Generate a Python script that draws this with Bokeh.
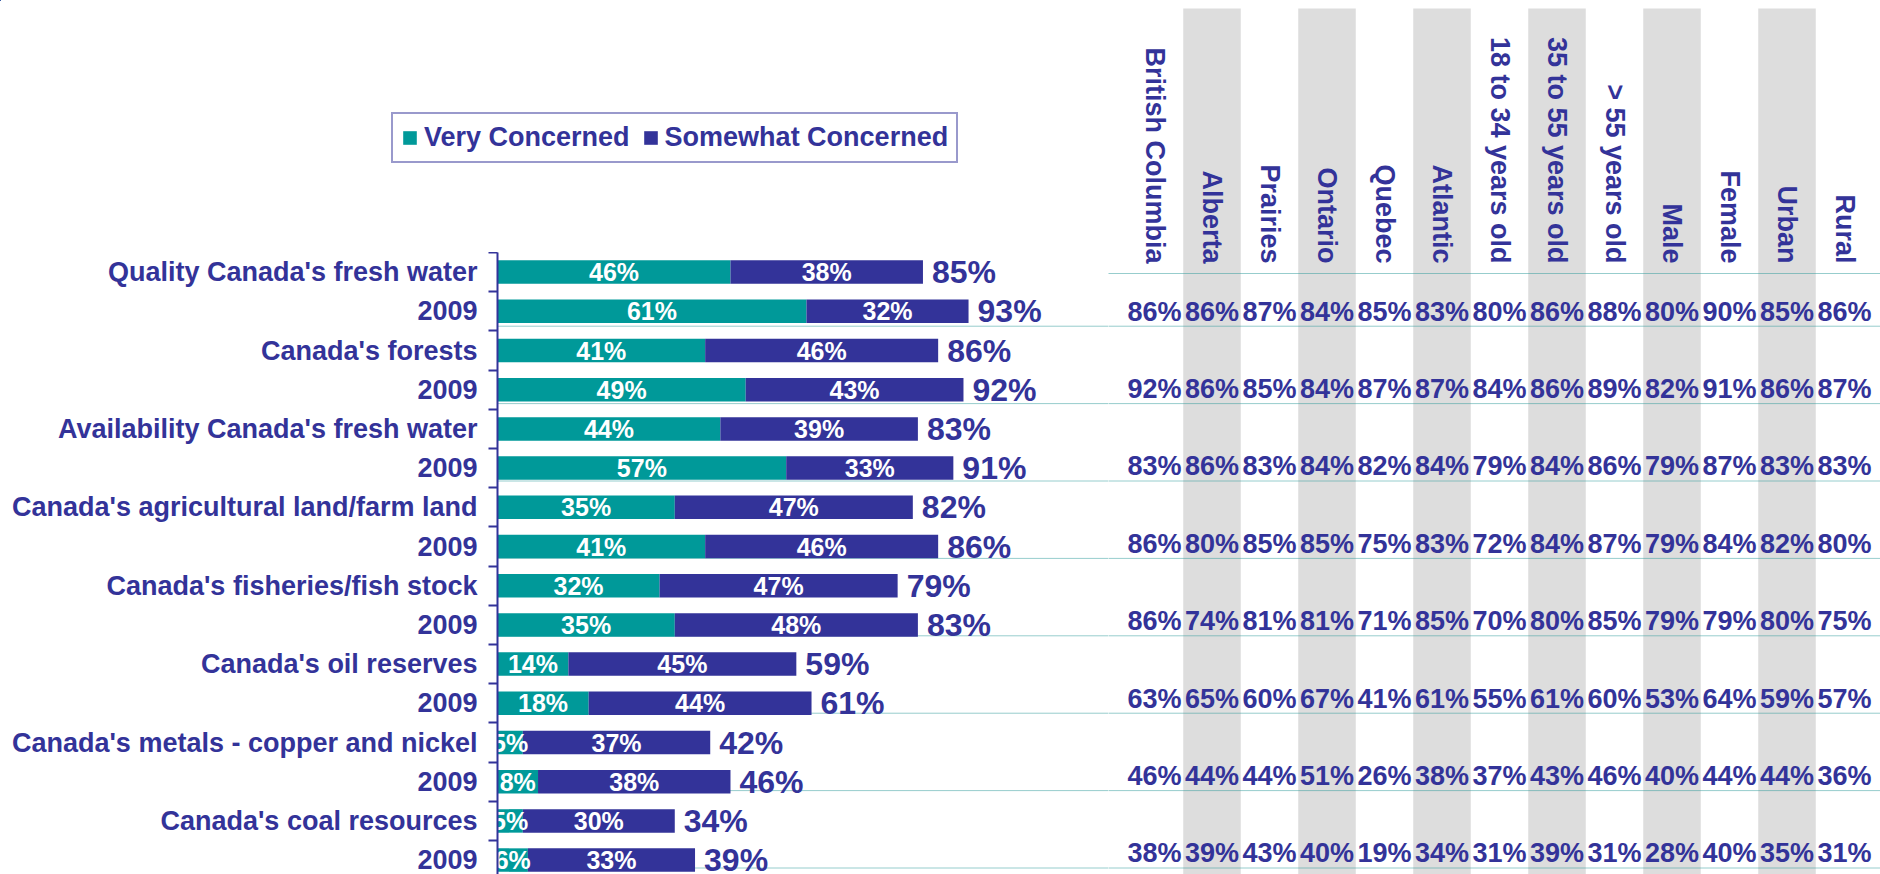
import math
from bokeh.plotting import figure
from bokeh.layouts import row, column
from bokeh.models import (Range1d, FixedTicker, ColumnDataSource, Legend, LegendItem,
                          BoxAnnotation, Span)
from bokeh.core.properties import value
from bokeh.embed import file_html
from bokeh.resources import INLINE

# ---------------- data ----------------
categories = ["Quality Canada's fresh water", "2009",
              "Canada's forests", "2009",
              "Availability Canada's fresh water", "2009",
              "Canada's agricultural land/farm land", "2009",
              "Canada's fisheries/fish stock", "2009",
              "Canada's oil reserves", "2009",
              "Canada's metals - copper and nickel", "2009",
              "Canada's coal resources", "2009"]
very_concerned = [46, 61, 41, 49, 44, 57, 35, 41, 32, 35, 14, 18, 5, 8, 5, 6]
somewhat_concerned = [38, 32, 46, 43, 39, 33, 47, 46, 47, 48, 45, 44, 37, 38, 30, 33]
total_concerned = [85, 93, 86, 92, 83, 91, 82, 86, 79, 83, 59, 61, 42, 46, 34, 39]
series_names = ["Very Concerned", "Somewhat Concerned"]

groups = ["British Columbia", "Alberta", "Prairies", "Ontario", "Quebec", "Atlantic",
          "18 to 34 years old", "35 to 55 years old", "> 55 years old",
          "Male", "Female", "Urban", "Rural"]
table_quality_water = [86, 86, 87, 84, 85, 83, 80, 86, 88, 80, 90, 85, 86]
table_forests = [92, 86, 85, 84, 87, 87, 84, 86, 89, 82, 91, 86, 87]
table_availability_water = [83, 86, 83, 84, 82, 84, 79, 84, 86, 79, 87, 83, 83]
table_agricultural = [86, 80, 85, 85, 75, 83, 72, 84, 87, 79, 84, 82, 80]
table_fisheries = [86, 74, 81, 81, 71, 85, 70, 80, 85, 79, 79, 80, 75]
table_oil = [63, 65, 60, 67, 41, 61, 55, 61, 60, 53, 64, 59, 57]
table_metals = [46, 44, 44, 51, 26, 38, 37, 43, 46, 40, 44, 44, 36]
table_coal = [38, 39, 43, 40, 19, 34, 31, 39, 31, 28, 40, 35, 31]
table_rows = [table_quality_water, table_forests, table_availability_water, table_agricultural,
              table_fisheries, table_oil, table_metals, table_coal]

# ---------------- style / layout (page pixels) ----------------
TEAL = "#009999"
BLUE = "#333399"
GRAY = "#DDDDDD"
DOT = "#2E9A9A"
FONT = value("Liberation Sans")

H = 874
LEFT_W = 1108
TABLE_W = 1880 - LEFT_W
AXIS_X = 497              # axis line x
FRAME_TOP = 252           # first row boundary
PX_PER_PCT = 5.065
ROW_PX = 39.2
PAIR_PX = 77.4
TROW0_Y = 311             # first table value row centre
COL_PX = 57.5
COL0_X = 1154             # first table column centre


def t_of(py):
    """table row units for a page y"""
    return (py - TROW0_Y) / PAIR_PX


def bare(p):
    p.outline_line_color = None
    p.xgrid.visible = False
    p.ygrid.visible = False


n = len(categories)
ycent = [i + 0.5 for i in range(n)]
ends = [v + s for v, s in zip(very_concerned, somewhat_concerned)]
src = ColumnDataSource(dict(
    y=ycent, very=very_concerned, end=ends,
    vmid=[v / 2 for v in very_concerned],
    smid=[v + s / 2 for v, s in zip(very_concerned, somewhat_concerned)],
    vlab=[f"{v}%" for v in very_concerned],
    slab=[f"{s}%" for s in somewhat_concerned],
    tlab=[f"{t}%" for t in total_concerned],
))

# ---------------- top-left: legend (same series, scrolled out of this panel's view) ----------------
leg_fig = figure(width=LEFT_W, height=FRAME_TOP,
                 x_range=Range1d(200, 300), y_range=Range1d(40, 30),
                 output_backend="svg", toolbar_location=None,
                 x_axis_location=None, y_axis_location=None,
                 min_border_left=0, min_border_right=0, min_border_top=0, min_border_bottom=0)
leg_fig.frame_align = False
bare(leg_fig)
lr_very = leg_fig.hbar(y="y", left=0, right="very", height=0.6, source=src,
                       fill_color=TEAL, line_color=None)
lr_some = leg_fig.hbar(y="y", left="very", right="end", height=0.6, source=src,
                       fill_color=BLUE, line_color=None)
legend = Legend(items=[LegendItem(label=series_names[0], renderers=[lr_very]),
                       LegendItem(label=series_names[1], renderers=[lr_some])],
                location=(391, FRAME_TOP - 163), orientation="horizontal",
                glyph_width=17, glyph_height=17, label_standoff=6, spacing=12,
                padding=8, margin=0,
                label_text_font="Liberation Sans", label_text_font_style="bold",
                label_text_font_size="27px", label_text_color=BLUE,
                border_line_color=BLUE, border_line_width=2,
                background_fill_color="white", background_fill_alpha=1)
leg_fig.add_layout(legend)

# ---------------- bottom-left: stacked bars ----------------
BARS_H = H - FRAME_TOP
left = figure(width=LEFT_W, height=BARS_H,
              x_range=Range1d(0, (LEFT_W - AXIS_X) / PX_PER_PCT),
              y_range=Range1d(BARS_H / ROW_PX, 0),
              output_backend="svg", toolbar_location=None,
              x_axis_location=None,
              min_border_left=AXIS_X, min_border_right=0,
              min_border_top=0, min_border_bottom=0)
left.extra_y_ranges = {"table": Range1d(t_of(H), t_of(FRAME_TOP))}
bare(left)

for k in range(len(table_rows)):
    left.add_layout(Span(location=k + 0.19, dimension="width", y_range_name="table",
                         line_color=DOT, line_dash="1 1", line_width=1, level="underlay"))

left.hbar(y="y", left=0, right="very", height=0.6, source=src,
          fill_color=TEAL, line_color=None)
left.hbar(y="y", left="very", right="end", height=0.6, source=src,
          fill_color=BLUE, line_color=None)

left.text(x="vmid", y="y", text="vlab", source=src, text_color="white",
          text_font=FONT, text_font_style="bold", text_font_size="25px",
          text_align="center", text_baseline="middle")
left.text(x="smid", y="y", text="slab", source=src, text_color="white",
          text_font=FONT, text_font_style="bold", text_font_size="25px",
          text_align="center", text_baseline="middle")
left.text(x="end", y="y", text="tlab", source=src, text_color=BLUE, x_offset=9,
          text_font=FONT, text_font_style="bold", text_font_size="32px",
          text_align="left", text_baseline="middle")

ax = left.yaxis[0]
ax.ticker = FixedTicker(ticks=ycent, minor_ticks=list(range(n + 1)))
ax.major_label_overrides = {yc: lab for yc, lab in zip(ycent, categories)}
ax.axis_line_color = BLUE
ax.axis_line_width = 2
ax.major_tick_line_color = None
ax.major_tick_out = 0
ax.major_tick_in = 0
ax.minor_tick_line_color = BLUE
ax.minor_tick_line_width = 2
ax.minor_tick_out = 9
ax.minor_tick_in = 0
ax.major_label_standoff = 11
ax.major_label_text_font = "Liberation Sans"
ax.major_label_text_font_style = "bold"
ax.major_label_text_font_size = "27px"
ax.major_label_text_color = BLUE

# ---------------- right: table ----------------
x_start = -(COL0_X - LEFT_W) / COL_PX
tbl = figure(width=TABLE_W, height=H,
             x_range=Range1d(x_start, x_start + TABLE_W / COL_PX),
             y_range=Range1d(t_of(H), t_of(0)),
             output_backend="svg", toolbar_location=None,
             x_axis_location=None, y_axis_location=None,
             min_border_left=0, min_border_right=0, min_border_top=0, min_border_bottom=0)
bare(tbl)

for i in range(len(groups)):
    if i % 2 == 1:
        tbl.add_layout(BoxAnnotation(left=i - 0.5, right=i + 0.5, top=t_of(8), bottom=t_of(H),
                                     fill_color=GRAY, fill_alpha=1,
                                     line_color=None, level="underlay"))

tbl.add_layout(Span(location=t_of(273), dimension="width",
                    line_color=DOT, line_dash="1 1", line_width=1, level="underlay"))
for k in range(len(table_rows)):
    tbl.add_layout(Span(location=k + 0.19, dimension="width",
                        line_color=DOT, line_dash="1 1", line_width=1, level="underlay"))

header_y = t_of(263)
tbl.text(x=list(range(len(groups))), y=[header_y] * len(groups), text=groups,
         angle=-math.pi / 2, text_align="right", text_baseline="middle",
         text_color=BLUE, text_font=FONT, text_font_style="bold", text_font_size="27px")

tx, ty, tt = [], [], []
for k, vals in enumerate(table_rows):
    for i, v in enumerate(vals):
        tx.append(i)
        ty.append(k)
        tt.append(f"{v}%")
tbl.text(x=tx, y=ty, text=tt, text_align="center", text_baseline="middle",
         text_color=BLUE, text_font=FONT, text_font_style="bold", text_font_size="27px")

layout = row(column(leg_fig, left), tbl)
open("out.html", "w").write(file_html(layout, INLINE))
